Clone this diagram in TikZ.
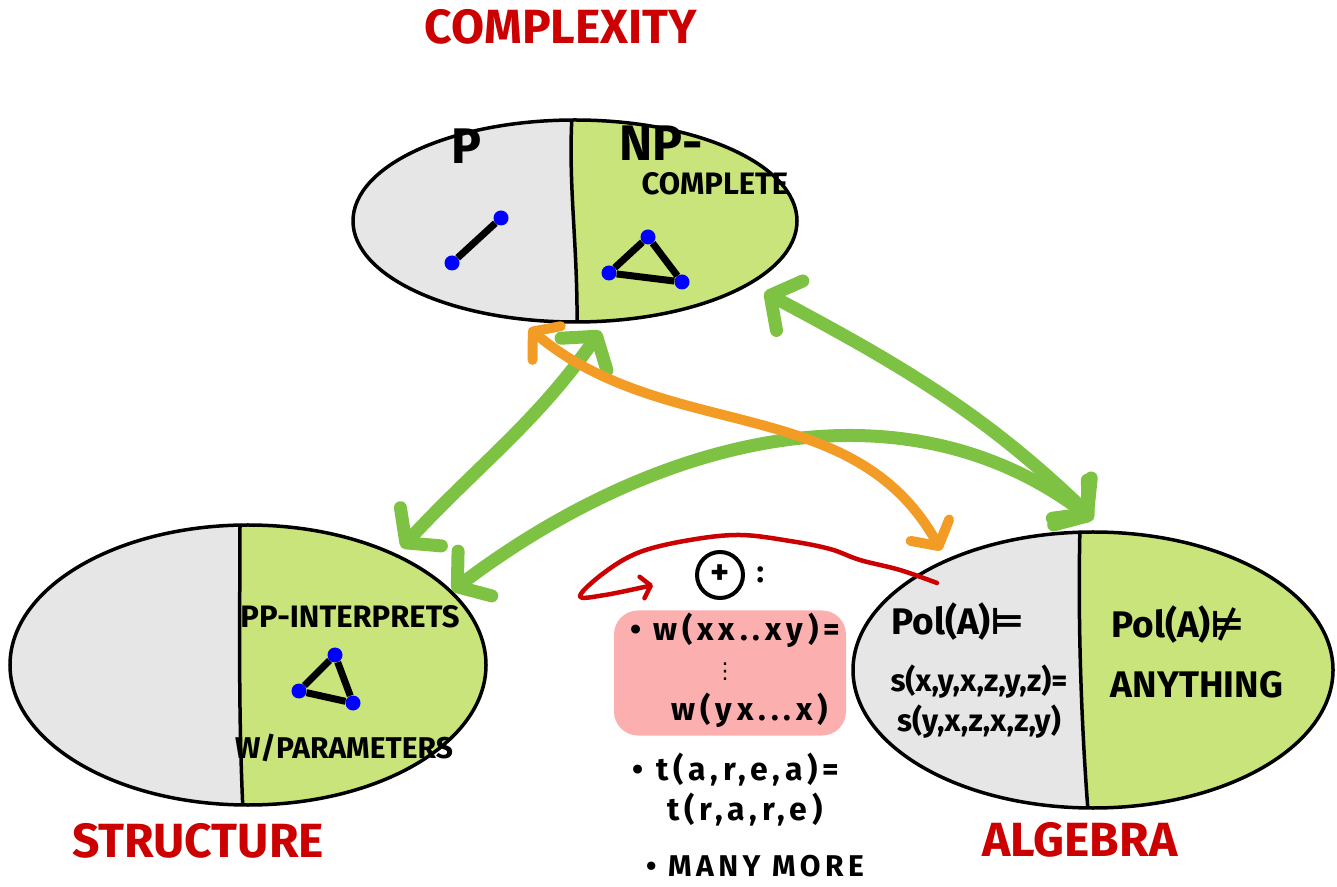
\documentclass[tikz,border=0pt]{standalone}
\usepackage{fontspec}
\usepackage{amssymb}
\setmainfont{Fira Sans}
\newfontfamily\handfont{Fira Sans}[LetterSpace=15]
\newfontfamily\symfont{DejaVu Sans}
\usetikzlibrary{positioning,shapes.geometric,arrows.meta}

\definecolor{greyfill}{HTML}{E6E6E6}
\definecolor{limefill}{HTML}{C9E47A}
\definecolor{arrowgreen}{HTML}{7DC242}
\definecolor{arroworange}{HTML}{F39C25}
\definecolor{penred}{HTML}{CC0000}
\definecolor{blobpink}{HTML}{FBAFAF}

\tikzset{
  blob/.style={draw, ellipse, line width=3.5pt, inner sep=0pt},
  divider/.style={line width=3.5pt},
  vdot/.style={circle, fill=blue, inner sep=0pt, minimum size=15pt},
  vedge/.style={line width=7pt},
  title/.style={text=penred, font=\fontsize{48}{48}\selectfont\bfseries},
  big/.style={font=\fontsize{50}{50}\selectfont\bfseries},
  mid/.style={font=\fontsize{37}{38}\selectfont\bfseries},
  small/.style={font=\fontsize{31}{32}\selectfont\bfseries},
  hand/.style={font=\handfont\fontsize{32}{34}\selectfont\bfseries},
  plusring/.style={circle, draw, line width=4pt, minimum size=46pt, inner sep=0pt, font=\fontsize{36}{36}\selectfont\bfseries},
  garrow/.style={draw=arrowgreen, line width=13pt, line cap=round, <->, >={Straight Barb[length=22pt, width=56pt, round]}},
  oarrow/.style={draw=arroworange, line width=10pt, line cap=round, <->, >={Straight Barb[length=18pt, width=44pt, round]}},
  redpen/.style={draw=penred, line width=4.5pt, line cap=round, line join=round, -{Straight Barb[length=9pt, width=22pt, round]}},
}

\begin{document}
\begin{tikzpicture}[x=1pt, y=1pt]
  \useasboundingbox (0,0) rectangle (1337,886);

  % complexity
  \begin{scope}
    \clip (575,665) ellipse (222pt and 101pt);
    \fill[greyfill] (350,560) rectangle (800,770);
    \fill[limefill] (577,556) .. controls (578,640) and (568,700) .. (572,770) -- (800,770) -- (800,556) -- cycle;
    \draw[divider] (577,556) .. controls (578,640) and (568,700) .. (572,770);
  \end{scope}
  \node[blob, minimum width=444pt, minimum height=202pt] (cx) at (575,665) {};

  % structure
  \begin{scope}
    \clip (248,221) ellipse (238pt and 140pt);
    \fill[greyfill] (5,75) rectangle (490,365);
    \fill[limefill] (243,75) .. controls (238,180) and (240,280) .. (240,365) -- (490,365) -- (490,75) -- cycle;
    \draw[divider] (243,75) .. controls (238,180) and (240,280) .. (240,365);
  \end{scope}
  \node[blob, minimum width=476pt, minimum height=280pt] (st) at (248,221) {};

  % algebra
  \begin{scope}
    \clip (1093,216) ellipse (240pt and 138pt);
    \fill[greyfill] (850,75) rectangle (1337,360);
    \fill[limefill] (1088,75) .. controls (1080,180) and (1078,280) .. (1080,360) -- (1337,360) -- (1337,75) -- cycle;
    \draw[divider] (1088,75) .. controls (1080,180) and (1078,280) .. (1080,360);
  \end{scope}
  \node[blob, minimum width=480pt, minimum height=276pt] (al) at (1093,216) {};

  \node[title] (cxname) at (561,859) {COMPLEXITY};
  \node[title] (stname) at (198,45) {STRUCTURE};
  \node[title] (alname) at (1080,46) {ALGEBRA};

  \node[big] (ptext) at (466,740) {P};
  \node[big] (nptext) at (661,743) {NP-};
  \node[small] (complete) at (715,702) {COMPLETE};

  \node[vdot] (p1) at (452,623) {};
  \node[vdot] (p2) at (501,668) {};
  \draw[vedge] (p1) -- (p2);

  \node[vdot] (n1) at (648,649) {};
  \node[vdot] (n2) at (609,613) {};
  \node[vdot] (n3) at (682,604) {};
  \draw[vedge] (n1) -- (n2) -- (n3) -- (n1);

  \node[small] (ppint) at (350,269) {PP-INTERPRETS};
  \node[small, font=\fontsize{30}{32}\selectfont\bfseries] (params) at (344,138) {W/PARAMETERS};
  \node[vdot] (q1) at (335,231) {};
  \node[vdot] (q2) at (299,195) {};
  \node[vdot] (q3) at (353,183) {};
  \draw[vedge] (q1) -- (q2) -- (q3) -- (q1);

  \node[mid] (polyes) at (958,264) {Pol(A){\symfont ⊨}};
  \node[small] (sigma1) at (979,204) {s(x,y,x,z,y,z)=};
  \node[small] (sigma2) at (979,164) {s(y,x,z,x,z,y)};
  \node[mid] (polno) at (1178,261) {Pol(A){\symfont ⊭}};
  \node[mid] (anything) at (1197,201) {ANYTHING};

  % identities
  \node[fill=blobpink, rounded corners=24pt, minimum width=232pt, minimum height=125pt] (wnu) at (730,213) {};
  \node[plusring] (plus) at (720,311) {+};
  \node[small, right=8pt of plus] (colon) {:};
  \node[hand] (wnu1) at (735,256) {• w(xx..xy)=};
  \node[inner sep=0pt, font=\symfont\fontsize{22}{22}\selectfont] (vdots) at (725,214) {⋮};
  \node[hand] (wnu2) at (750,176) {w(yx...x)};
  \node[hand] (tid1) at (736,116) {• t(a,r,e,a)=};
  \node[hand] (tid2) at (745,76) {t(r,a,r,e)};
  \node[hand, font=\handfont\fontsize{30}{32}\selectfont\bfseries] (more) at (755,20) {• MANY MORE};

  \draw[garrow, shorten <=16pt, shorten >=18pt] (cx.-20) to[out=-28, in=136] (al.85);
  \draw[garrow, shorten <=10pt, shorten >=8pt] (cx.-73) to[out=-125, in=47] (st.37);
  \draw[garrow, shorten >=18pt] (st.20) to[out=37, in=143] (al.84);
  \draw[oarrow, shorten <=12pt, shorten >=10pt] (cx.-119) to[out=-40, in=119] (al.143);

  \coordinate (redstart) at (937,303);
  \draw[redpen] plot[smooth, tension=0.6] coordinates {(redstart) (900,316) (860,326) (830,337) (790,345) (740,351) (690,346) (640,334) (605,314) (580,290) (605,291) (653,301)};
\end{tikzpicture}
\end{document}
